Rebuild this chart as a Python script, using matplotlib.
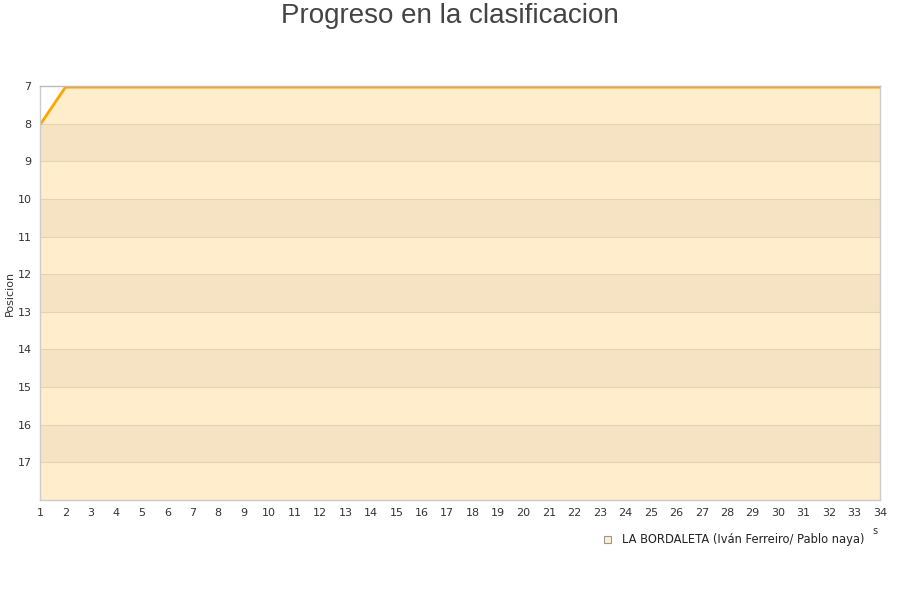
import matplotlib
matplotlib.use("Agg")
import matplotlib.pyplot as plt

jornadas = list(range(1, 35))
posiciones = [8, 7, 7, 7, 7, 7, 7, 7, 7, 7, 7, 7, 7, 7, 7, 7, 7,
              7, 7, 7, 7, 7, 7, 7, 7, 7, 7, 7, 7, 7, 7, 7, 7, 7]
y_ticks = list(range(7, 18))
equipo = "LA BORDALETA (Iván Ferreiro/ Pablo naya)"

fig = plt.figure(figsize=(9, 6), dpi=100)
ax = fig.add_axes([40/900, 1-500/600, 840/900, 414/600])

light = "#FFEDCC"
dark = "#F5E3C3"
ax.fill_between(jornadas, posiciones, 18, color=light, zorder=1, linewidth=0)
for y0 in range(8, 18, 2):
    ax.fill_between(jornadas, [max(p, y0) for p in posiciones], y0 + 1,
                    color=dark, zorder=1.5, linewidth=0)
for y in range(8, 18):
    ax.axhline(y, color="#E8D3B0", linewidth=0.8, zorder=2)

ax.plot(jornadas, [p + 0.03 for p in posiciones], color="#FFA500", linewidth=2, zorder=3)

ax.set_xlim(1, 34)
ax.set_ylim(18, 7)
ax.set_xticks(jornadas)
ax.set_yticks(y_ticks)
ax.tick_params(length=0, labelsize=8, colors="#333333", pad=6)
for s in ax.spines.values():
    s.set_color("#CCCCCC")
    s.set_linewidth(1)
    s.set_zorder(4)
ax.spines["top"].set_color("#BBBBBB")

ax.set_ylabel("Posicion", fontsize=8, color="#333333", labelpad=2)
fig.text(0.5, 1-16/600, "Progreso en la clasificacion", ha="center", va="center",
         fontsize=20, color="#444444", family="Liberation Sans")

# legend
fig.patches.append(plt.Rectangle((604/900, 1-543/600), 7/900, 7/600,
                                 transform=fig.transFigure, facecolor=light,
                                 edgecolor="#999999", linewidth=0.8))
fig.text(622/900, 1-539/600, equipo, ha="left", va="center", fontsize=8.3, color="#222222")
fig.text(875/900, 1-531/600, "s", ha="center", va="center", fontsize=7, color="#333333")

fig.savefig("out.png", dpi=100)
